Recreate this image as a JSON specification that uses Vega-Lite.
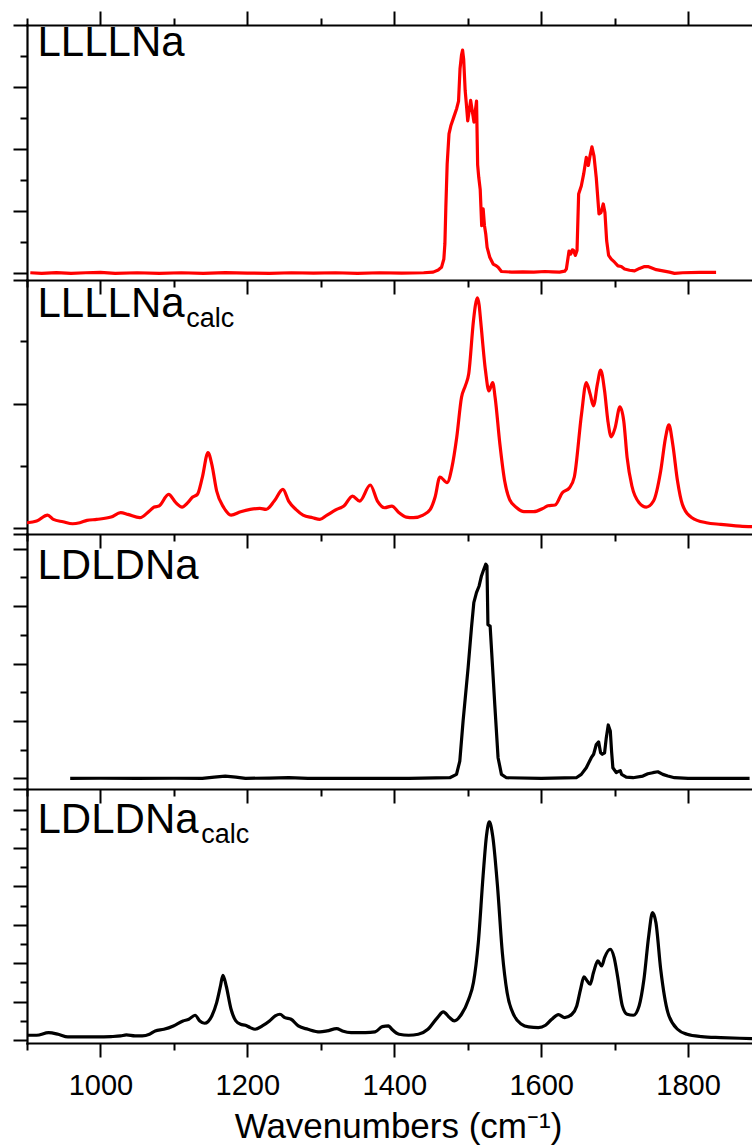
{
  "$schema": "https://vega.github.io/schema/vega-lite/v6.json",
  "background": "white",
  "padding": {"left": 12, "top": 10, "right": 0, "bottom": 2},
  "spacing": 0,
  "bounds": "flush",
  "datasets": {
    "labels": [
      {"panel": 1, "kind": "main", "text": "LLLLNa", "x": 914.3, "y": 3.5},
      {"panel": 2, "kind": "main", "text": "LLLLNa", "x": 914.3, "y": 3.39},
      {"panel": 2, "kind": "sub", "text": "calc", "x": 1116.7, "y": 3.22},
      {"panel": 3, "kind": "main", "text": "LDLDNa", "x": 914.3, "y": 6.94},
      {"panel": 4, "kind": "main", "text": "LDLDNa", "x": 914.3, "y": 10.8},
      {"panel": 4, "kind": "sub", "text": "calc", "x": 1137.1, "y": 10.24}
    ],
    "p1": [
      {"x": 904.5, "y": 0.01}, {"x": 920, "y": 0.0}, {"x": 940, "y": 0.012}, {"x": 960, "y": 0.0}, {"x": 980, "y": 0.01}, {"x": 1000, "y": 0.016}, {"x": 1020, "y": 0.0}, {"x": 1050, "y": 0.01}, {"x": 1080, "y": 0.0}, {"x": 1110, "y": 0.01}, {"x": 1140, "y": 0.0}, {"x": 1170, "y": 0.012}, {"x": 1200, "y": 0.005}, {"x": 1230, "y": 0.0}, {"x": 1260, "y": 0.01}, {"x": 1290, "y": 0.004}, {"x": 1320, "y": 0.01}, {"x": 1350, "y": 0.0}, {"x": 1380, "y": 0.01}, {"x": 1410, "y": 0.004}, {"x": 1440, "y": 0.01}, {"x": 1453, "y": 0.02},
      {"x": 1459.8, "y": 0.054}, {"x": 1464.3, "y": 0.097}, {"x": 1467.5, "y": 0.232}, {"x": 1468.9, "y": 0.474}, {"x": 1470.2, "y": 1.065}, {"x": 1472, "y": 1.76}, {"x": 1474.5, "y": 2.25}, {"x": 1477, "y": 2.38}, {"x": 1481, "y": 2.52}, {"x": 1485, "y": 2.66}, {"x": 1487.5, "y": 2.78}, {"x": 1489.5, "y": 3.3}, {"x": 1491.5, "y": 3.52}, {"x": 1493, "y": 3.6}, {"x": 1494.5, "y": 3.45}, {"x": 1496.5, "y": 2.95}, {"x": 1498, "y": 2.75}, {"x": 1500, "y": 2.46}, {"x": 1504, "y": 2.79}, {"x": 1508.5, "y": 2.44}, {"x": 1512, "y": 2.78}, {"x": 1513.5, "y": 1.75}, {"x": 1515, "y": 1.55}, {"x": 1517, "y": 1.35}, {"x": 1519, "y": 0.77}, {"x": 1521, "y": 1.04}, {"x": 1522.8, "y": 0.77}, {"x": 1524.6, "y": 0.63}, {"x": 1526.4, "y": 0.42}, {"x": 1530, "y": 0.26}, {"x": 1534.6, "y": 0.15}, {"x": 1539.1, "y": 0.12}, {"x": 1541.4, "y": 0.1}, {"x": 1545.9, "y": 0.03},
      {"x": 1560, "y": 0.02}, {"x": 1575, "y": 0.025}, {"x": 1590, "y": 0.02}, {"x": 1605, "y": 0.03}, {"x": 1615, "y": 0.025}, {"x": 1625, "y": 0.02}, {"x": 1632, "y": 0.035}, {"x": 1634.3, "y": 0.07}, {"x": 1637.9, "y": 0.36}, {"x": 1640.1, "y": 0.31}, {"x": 1642.4, "y": 0.38}, {"x": 1644.2, "y": 0.37}, {"x": 1646.5, "y": 0.29}, {"x": 1648.8, "y": 0.37}, {"x": 1651, "y": 1.28}, {"x": 1654.6, "y": 1.41}, {"x": 1657.8, "y": 1.6}, {"x": 1661.4, "y": 1.87}, {"x": 1664.2, "y": 1.74}, {"x": 1666.4, "y": 1.89}, {"x": 1669.1, "y": 2.04}, {"x": 1671.9, "y": 1.89}, {"x": 1675, "y": 1.54}, {"x": 1678.7, "y": 0.96}, {"x": 1681.4, "y": 0.98}, {"x": 1684.5, "y": 1.12}, {"x": 1686.8, "y": 0.98}, {"x": 1689.1, "y": 0.53}, {"x": 1691.8, "y": 0.29}, {"x": 1695.4, "y": 0.23}, {"x": 1699.9, "y": 0.18}, {"x": 1704.5, "y": 0.12}, {"x": 1709, "y": 0.11}, {"x": 1713.5, "y": 0.07}, {"x": 1720.3, "y": 0.05}, {"x": 1727.1, "y": 0.04}, {"x": 1733.9, "y": 0.08}, {"x": 1740.7, "y": 0.11}, {"x": 1745.3, "y": 0.11}, {"x": 1749.8, "y": 0.09}, {"x": 1756.6, "y": 0.06}, {"x": 1765.7, "y": 0.04}, {"x": 1774.7, "y": 0.02}, {"x": 1781.5, "y": 0.0}, {"x": 1792.8, "y": 0.01}, {"x": 1815.5, "y": 0.015}, {"x": 1838.1, "y": 0.015}
    ],
    "p2": [
      {"x": 900, "y": 0.09}, {"x": 913.1, "y": 0.117}, {"x": 928.1, "y": 0.213}, {"x": 935.9, "y": 0.144}, {"x": 949, "y": 0.106}, {"x": 962.1, "y": 0.074}, {"x": 971.9, "y": 0.09}, {"x": 981.7, "y": 0.128}, {"x": 994.8, "y": 0.144}, {"x": 1014.4, "y": 0.181}, {"x": 1027.5, "y": 0.251}, {"x": 1037.3, "y": 0.224}, {"x": 1053.6, "y": 0.171}, {"x": 1066.7, "y": 0.278}, {"x": 1073.2, "y": 0.342}, {"x": 1079.7, "y": 0.358}, {"x": 1092.8, "y": 0.545}, {"x": 1102.6, "y": 0.412}, {"x": 1111.1, "y": 0.342}, {"x": 1118.9, "y": 0.412}, {"x": 1125.5, "y": 0.502}, {"x": 1132, "y": 0.545}, {"x": 1138.6, "y": 0.813}, {"x": 1146.4, "y": 1.214}, {"x": 1151.6, "y": 1.027}, {"x": 1158.2, "y": 0.599}, {"x": 1168, "y": 0.331}, {"x": 1177.8, "y": 0.213}, {"x": 1190.8, "y": 0.267}, {"x": 1203.9, "y": 0.304}, {"x": 1217, "y": 0.321}, {"x": 1225.5, "y": 0.304}, {"x": 1236.6, "y": 0.438}, {"x": 1248.4, "y": 0.626}, {"x": 1256.2, "y": 0.438}, {"x": 1266, "y": 0.304}, {"x": 1275.8, "y": 0.213}, {"x": 1288.9, "y": 0.171}, {"x": 1298.7, "y": 0.144}, {"x": 1308.5, "y": 0.213}, {"x": 1321.6, "y": 0.304}, {"x": 1331.4, "y": 0.358}, {"x": 1343.1, "y": 0.518}, {"x": 1352.9, "y": 0.438}, {"x": 1367.3, "y": 0.695}, {"x": 1377.1, "y": 0.438}, {"x": 1386.9, "y": 0.331}, {"x": 1396.7, "y": 0.358}, {"x": 1406.5, "y": 0.251}, {"x": 1416.3, "y": 0.181}, {"x": 1426.1, "y": 0.171}, {"x": 1439.2, "y": 0.213}, {"x": 1449, "y": 0.304}, {"x": 1455.6, "y": 0.502}, {"x": 1462.1, "y": 0.823}, {"x": 1471.9, "y": 0.733}, {"x": 1478.4, "y": 0.973}, {"x": 1485, "y": 1.455}, {"x": 1491.5, "y": 2.097}, {"x": 1496.7, "y": 2.284}, {"x": 1501.3, "y": 2.472}, {"x": 1507.8, "y": 3.327}, {"x": 1510.5, "y": 3.58}, {"x": 1513.1, "y": 3.692}, {"x": 1515.5, "y": 3.58}, {"x": 1517.6, "y": 3.327}, {"x": 1524.2, "y": 2.525}, {"x": 1528.8, "y": 2.204}, {"x": 1534, "y": 2.337}, {"x": 1537.3, "y": 2.097}, {"x": 1543.8, "y": 1.348}, {"x": 1550.3, "y": 0.759}, {"x": 1556.9, "y": 0.466}, {"x": 1566.7, "y": 0.331}, {"x": 1576.5, "y": 0.267}, {"x": 1589.5, "y": 0.267}, {"x": 1602.6, "y": 0.321}, {"x": 1609.2, "y": 0.363}, {"x": 1619, "y": 0.374}, {"x": 1628.8, "y": 0.572}, {"x": 1638.6, "y": 0.652}, {"x": 1645.1, "y": 0.823}, {"x": 1654.9, "y": 1.83}, {"x": 1661.4, "y": 2.337}, {"x": 1666.7, "y": 2.151}, {"x": 1671.2, "y": 1.963}, {"x": 1676.5, "y": 2.311}, {"x": 1681, "y": 2.536}, {"x": 1686.3, "y": 2.204}, {"x": 1690.8, "y": 1.722}, {"x": 1695.4, "y": 1.466}, {"x": 1700.7, "y": 1.615}, {"x": 1707.2, "y": 1.947}, {"x": 1712.4, "y": 1.722}, {"x": 1717, "y": 1.134}, {"x": 1723.5, "y": 0.679}, {"x": 1733.3, "y": 0.412}, {"x": 1743.1, "y": 0.342}, {"x": 1752.9, "y": 0.438}, {"x": 1762.7, "y": 0.92}, {"x": 1769.3, "y": 1.455}, {"x": 1773.9, "y": 1.658}, {"x": 1779.1, "y": 1.348}, {"x": 1785.6, "y": 0.759}, {"x": 1792.2, "y": 0.385}, {"x": 1805.2, "y": 0.171}, {"x": 1824.8, "y": 0.09}, {"x": 1844.4, "y": 0.064}, {"x": 1870.6, "y": 0.037}, {"x": 1888.9, "y": 0.026}
    ],
    "p3": [
      {"x": 958.8, "y": 0.0}, {"x": 1000, "y": 0.005}, {"x": 1050, "y": 0.0}, {"x": 1100, "y": 0.005}, {"x": 1138.6, "y": 0.0}, {"x": 1154.9, "y": 0.046}, {"x": 1169.9, "y": 0.081}, {"x": 1184.3, "y": 0.046}, {"x": 1197.4, "y": 0.0}, {"x": 1230, "y": 0.012}, {"x": 1256.2, "y": 0.023}, {"x": 1282.4, "y": 0.0}, {"x": 1350, "y": 0.0}, {"x": 1420, "y": 0.0}, {"x": 1475.6, "y": 0.023}, {"x": 1484.7, "y": 0.139}, {"x": 1489.2, "y": 0.6}, {"x": 1493.7, "y": 2.0}, {"x": 1500.5, "y": 3.85}, {"x": 1505.1, "y": 5.25}, {"x": 1508.3, "y": 6.12}, {"x": 1511.9, "y": 6.47}, {"x": 1515.5, "y": 6.7}, {"x": 1518.7, "y": 7.05}, {"x": 1521.9, "y": 7.28}, {"x": 1524.6, "y": 7.46}, {"x": 1526.2, "y": 7.4}, {"x": 1527.5, "y": 5.35}, {"x": 1530.5, "y": 5.3}, {"x": 1536.8, "y": 2.58}, {"x": 1541.3, "y": 0.72}, {"x": 1545.9, "y": 0.139}, {"x": 1552.7, "y": 0.023}, {"x": 1600, "y": 0.0}, {"x": 1647.8, "y": 0.023}, {"x": 1654.6, "y": 0.139}, {"x": 1661.4, "y": 0.37}, {"x": 1668.2, "y": 0.72}, {"x": 1671.4, "y": 0.84}, {"x": 1675, "y": 1.18}, {"x": 1678.2, "y": 1.27}, {"x": 1680.9, "y": 0.89}, {"x": 1683.2, "y": 0.84}, {"x": 1686.3, "y": 0.89}, {"x": 1688.6, "y": 1.41}, {"x": 1691.3, "y": 1.86}, {"x": 1694.1, "y": 1.65}, {"x": 1695.8, "y": 0.95}, {"x": 1697.6, "y": 0.37}, {"x": 1702.2, "y": 0.198}, {"x": 1705.8, "y": 0.25}, {"x": 1707.7, "y": 0.27}, {"x": 1709.4, "y": 0.14}, {"x": 1715.8, "y": 0.046}, {"x": 1724.9, "y": 0.023}, {"x": 1738.4, "y": 0.081}, {"x": 1745.2, "y": 0.16}, {"x": 1752, "y": 0.198}, {"x": 1758.8, "y": 0.23}, {"x": 1765.6, "y": 0.139}, {"x": 1772.4, "y": 0.081}, {"x": 1781.5, "y": 0.023}, {"x": 1800, "y": 0.0}, {"x": 1883.7, "y": 0.0}
    ],
    "p4": [
      {"x": 900, "y": 0.243}, {"x": 913.1, "y": 0.243}, {"x": 929.4, "y": 0.382}, {"x": 942.5, "y": 0.295}, {"x": 955.6, "y": 0.156}, {"x": 975.2, "y": 0.156}, {"x": 994.8, "y": 0.156}, {"x": 1014.4, "y": 0.174}, {"x": 1027.5, "y": 0.208}, {"x": 1035.3, "y": 0.26}, {"x": 1047.1, "y": 0.208}, {"x": 1056.9, "y": 0.208}, {"x": 1066.7, "y": 0.295}, {"x": 1074.5, "y": 0.469}, {"x": 1086.3, "y": 0.556}, {"x": 1099.3, "y": 0.729}, {"x": 1112.4, "y": 0.99}, {"x": 1120.3, "y": 1.076}, {"x": 1128.8, "y": 1.285}, {"x": 1135.3, "y": 0.99}, {"x": 1141.8, "y": 0.868}, {"x": 1151.6, "y": 1.25}, {"x": 1158.2, "y": 1.944}, {"x": 1163.4, "y": 2.81}, {"x": 1166.7, "y": 3.368}, {"x": 1171.2, "y": 2.81}, {"x": 1177.8, "y": 1.597}, {"x": 1184.3, "y": 0.99}, {"x": 1190.8, "y": 0.816}, {"x": 1197.4, "y": 0.764}, {"x": 1203.9, "y": 0.642}, {"x": 1210.5, "y": 0.556}, {"x": 1220.3, "y": 0.729}, {"x": 1230.1, "y": 0.99}, {"x": 1237.9, "y": 1.25}, {"x": 1244.4, "y": 1.337}, {"x": 1251, "y": 1.163}, {"x": 1259.5, "y": 1.076}, {"x": 1269.3, "y": 0.729}, {"x": 1282.4, "y": 0.556}, {"x": 1298.7, "y": 0.417}, {"x": 1308.5, "y": 0.469}, {"x": 1321.6, "y": 0.59}, {"x": 1329.4, "y": 0.469}, {"x": 1341.2, "y": 0.382}, {"x": 1360.8, "y": 0.382}, {"x": 1373.9, "y": 0.417}, {"x": 1383.7, "y": 0.694}, {"x": 1392.2, "y": 0.729}, {"x": 1396.7, "y": 0.556}, {"x": 1406.5, "y": 0.295}, {"x": 1419.6, "y": 0.243}, {"x": 1432.7, "y": 0.295}, {"x": 1445.8, "y": 0.556}, {"x": 1458.8, "y": 1.163}, {"x": 1466.7, "y": 1.458}, {"x": 1475.2, "y": 1.163}, {"x": 1481.7, "y": 0.99}, {"x": 1491.5, "y": 1.337}, {"x": 1501.3, "y": 2.118}, {"x": 1507.8, "y": 2.986}, {"x": 1514.4, "y": 5.069}, {"x": 1520.9, "y": 8.54}, {"x": 1525.5, "y": 10.625}, {"x": 1529.4, "y": 11.354}, {"x": 1534, "y": 10.625}, {"x": 1540.5, "y": 8.02}, {"x": 1547.1, "y": 4.549}, {"x": 1553.6, "y": 2.465}, {"x": 1563.4, "y": 1.25}, {"x": 1573.2, "y": 0.816}, {"x": 1583, "y": 0.677}, {"x": 1596.1, "y": 0.642}, {"x": 1605.9, "y": 0.764}, {"x": 1614.4, "y": 1.076}, {"x": 1623.5, "y": 1.319}, {"x": 1632, "y": 1.163}, {"x": 1641.8, "y": 1.337}, {"x": 1648.4, "y": 1.771}, {"x": 1653.6, "y": 2.639}, {"x": 1658.2, "y": 3.281}, {"x": 1662.7, "y": 3.073}, {"x": 1666.7, "y": 2.899}, {"x": 1671.2, "y": 3.507}, {"x": 1677.1, "y": 4.115}, {"x": 1682.4, "y": 3.854}, {"x": 1686.3, "y": 4.288}, {"x": 1694.1, "y": 4.722}, {"x": 1699.3, "y": 4.288}, {"x": 1703.9, "y": 3.333}, {"x": 1710.5, "y": 1.771}, {"x": 1717, "y": 1.337}, {"x": 1725.5, "y": 1.285}, {"x": 1733.3, "y": 1.771}, {"x": 1739.9, "y": 3.16}, {"x": 1746.4, "y": 5.417}, {"x": 1751.6, "y": 6.632}, {"x": 1756.2, "y": 6.111}, {"x": 1762.7, "y": 3.681}, {"x": 1772.5, "y": 1.424}, {"x": 1785.6, "y": 0.556}, {"x": 1798.7, "y": 0.295}, {"x": 1818.3, "y": 0.174}, {"x": 1844.4, "y": 0.122}, {"x": 1870.6, "y": 0.087}, {"x": 1888.9, "y": 0.069}
    ]
  },
  "resolve": {"scale": {"x": "independent", "y": "independent"}},
  "vconcat": [
    {
      "width": 725, "height": 255,
      "resolve": {"axis": {"x": "independent", "y": "independent"}},
      "layer": [
        {
          "data": {"name": "p1"},
          "mark": {"type": "line", "color": "#ff0000", "strokeWidth": 3.2, "strokeJoin": "round", "clip": true},
          "encoding": {
            "x": {"field": "x", "type": "quantitative", "scale": {"domain": [900, 1887], "nice": false, "zero": false},
                  "axis": {"orient": "bottom", "values": [1000, 1200, 1400, 1600, 1800], "tickSize": 14, "labels": false, "title": null, "domain": true}},
            "y": {"field": "y", "type": "quantitative", "scale": {"domain": [-0.107, 4.006], "nice": false, "zero": false},
                  "axis": {"orient": "left", "values": [0, 1, 2, 3, 4], "tickSize": 14, "labels": false, "title": null, "domain": true}}
          }
        },
        {
          "data": {"name": "labels"},
          "transform": [{"filter": "datum.panel == 1 && datum.kind == 'main'"}],
          "mark": {"type": "text", "align": "left", "baseline": "alphabetic", "fontSize": 42, "font": "Liberation Sans", "color": "#000000"},
          "encoding": {
            "x": {"field": "x", "type": "quantitative", "axis": {"orient": "bottom", "values": [900, 1100, 1300, 1500, 1700], "tickSize": 7, "labels": false, "title": null, "domain": false}},
            "y": {"field": "y", "type": "quantitative", "axis": {"orient": "left", "values": [0.5, 1.5, 2.5, 3.5], "tickSize": 7, "labels": false, "title": null, "domain": false}},
            "text": {"field": "text"}
          }
        },
        {
          "data": {"name": "labels"},
          "transform": [{"filter": "datum.panel == 1 && datum.kind == 'main'"}],
          "mark": {"type": "point", "opacity": 0},
          "encoding": {
            "x": {"field": "x", "type": "quantitative", "axis": {"orient": "top", "values": [1000, 1200, 1400, 1600, 1800], "tickSize": 14, "labels": false, "title": null, "domain": true}},
            "y": {"field": "y", "type": "quantitative", "axis": null}
          }
        },
        {
          "data": {"name": "labels"},
          "transform": [{"filter": "datum.panel == 1 && datum.kind == 'main'"}],
          "mark": {"type": "point", "opacity": 0},
          "encoding": {
            "x": {"field": "x", "type": "quantitative", "axis": {"orient": "top", "values": [900, 1100, 1300, 1500, 1700], "tickSize": 7, "labels": false, "title": null, "domain": false}},
            "y": {"field": "y", "type": "quantitative", "axis": null}
          }
        }
      ]
    },
    {
      "width": 725, "height": 254,
      "resolve": {"axis": {"x": "independent", "y": "independent"}},
      "layer": [
        {
          "data": {"name": "p2"},
          "mark": {"type": "line", "color": "#ff0000", "strokeWidth": 3.2, "interpolate": "monotone", "clip": true},
          "encoding": {
            "x": {"field": "x", "type": "quantitative", "scale": {"domain": [900, 1887], "nice": false, "zero": false},
                  "axis": {"orient": "bottom", "values": [1000, 1200, 1400, 1600, 1800], "tickSize": 14, "labels": false, "title": null, "domain": true}},
            "y": {"field": "y", "type": "quantitative", "scale": {"domain": [-0.09, 3.98], "nice": false, "zero": false},
                  "axis": {"orient": "left", "values": [0, 2, 3.98], "tickSize": 14, "labels": false, "title": null, "domain": true}}
          }
        },
        {
          "data": {"name": "labels"},
          "transform": [{"filter": "datum.panel == 2 && datum.kind == 'main'"}],
          "mark": {"type": "text", "align": "left", "baseline": "alphabetic", "fontSize": 42, "font": "Liberation Sans", "color": "#000000"},
          "encoding": {
            "x": {"field": "x", "type": "quantitative", "axis": {"orient": "bottom", "values": [900, 1100, 1300, 1500, 1700], "tickSize": 7, "labels": false, "title": null, "domain": false}},
            "y": {"field": "y", "type": "quantitative", "axis": {"orient": "left", "values": [1, 3], "tickSize": 7, "labels": false, "title": null, "domain": false}},
            "text": {"field": "text"}
          }
        },
        {
          "data": {"name": "labels"},
          "transform": [{"filter": "datum.panel == 2 && datum.kind == 'sub'"}],
          "mark": {"type": "text", "align": "left", "baseline": "alphabetic", "fontSize": 27, "font": "Liberation Sans", "color": "#000000"},
          "encoding": {
            "x": {"field": "x", "type": "quantitative", "axis": null},
            "y": {"field": "y", "type": "quantitative", "axis": null},
            "text": {"field": "text"}
          }
        }
      ]
    },
    {
      "width": 725, "height": 255,
      "resolve": {"axis": {"x": "independent", "y": "independent"}},
      "layer": [
        {
          "data": {"name": "p3"},
          "mark": {"type": "line", "color": "#000000", "strokeWidth": 3.2, "strokeJoin": "round", "clip": true},
          "encoding": {
            "x": {"field": "x", "type": "quantitative", "scale": {"domain": [900, 1887], "nice": false, "zero": false},
                  "axis": {"orient": "bottom", "values": [1000, 1200, 1400, 1600, 1800], "tickSize": 14, "labels": false, "title": null, "domain": true}},
            "y": {"field": "y", "type": "quantitative", "scale": {"domain": [-0.37, 8.51], "nice": false, "zero": false},
                  "axis": {"orient": "left", "values": [0, 2, 4, 6, 8, 8.51], "tickSize": 14, "labels": false, "title": null, "domain": true}}
          }
        },
        {
          "data": {"name": "labels"},
          "transform": [{"filter": "datum.panel == 3 && datum.kind == 'main'"}],
          "mark": {"type": "text", "align": "left", "baseline": "alphabetic", "fontSize": 42, "font": "Liberation Sans", "color": "#000000"},
          "encoding": {
            "x": {"field": "x", "type": "quantitative", "axis": {"orient": "bottom", "values": [900, 1100, 1300, 1500, 1700], "tickSize": 7, "labels": false, "title": null, "domain": false}},
            "y": {"field": "y", "type": "quantitative", "axis": {"orient": "left", "values": [1, 3, 5, 7], "tickSize": 7, "labels": false, "title": null, "domain": false}},
            "text": {"field": "text"}
          }
        }
      ]
    },
    {
      "width": 725, "height": 254,
      "resolve": {"axis": {"x": "independent", "y": "independent"}},
      "layer": [
        {
          "data": {"name": "p4"},
          "mark": {"type": "line", "color": "#000000", "strokeWidth": 3.2, "interpolate": "monotone", "clip": true},
          "encoding": {
            "x": {"field": "x", "type": "quantitative", "scale": {"domain": [900, 1887], "nice": false, "zero": false},
                  "axis": {"orient": "bottom", "values": [1000, 1200, 1400, 1600, 1800], "tickSize": 14, "labels": true, "format": "d", "labelFontSize": 29, "labelBaseline": "alphabetic", "labelPadding": 37, "labelFlush": false, "title": "Wavenumbers (cm⁻¹)", "titleFontSize": 35, "titleBaseline": "alphabetic", "titleX": 371, "titleY": 94, "domain": true}},
            "y": {"field": "y", "type": "quantitative", "scale": {"domain": [-0.16, 13.07], "nice": false, "zero": false},
                  "axis": {"orient": "left", "values": [0, 2, 4, 6, 8, 10, 12, 13.07], "tickSize": 14, "labels": false, "title": null, "domain": true}}
          }
        },
        {
          "data": {"name": "labels"},
          "transform": [{"filter": "datum.panel == 4 && datum.kind == 'main'"}],
          "mark": {"type": "text", "align": "left", "baseline": "alphabetic", "fontSize": 42, "font": "Liberation Sans", "color": "#000000"},
          "encoding": {
            "x": {"field": "x", "type": "quantitative", "axis": {"orient": "bottom", "values": [900, 1100, 1300, 1500, 1700], "tickSize": 7, "labels": false, "title": null, "domain": false}},
            "y": {"field": "y", "type": "quantitative", "axis": {"orient": "left", "values": [1, 3, 5, 7, 9, 11], "tickSize": 7, "labels": false, "title": null, "domain": false}},
            "text": {"field": "text"}
          }
        },
        {
          "data": {"name": "labels"},
          "transform": [{"filter": "datum.panel == 4 && datum.kind == 'sub'"}],
          "mark": {"type": "text", "align": "left", "baseline": "alphabetic", "fontSize": 27, "font": "Liberation Sans", "color": "#000000"},
          "encoding": {
            "x": {"field": "x", "type": "quantitative", "axis": null},
            "y": {"field": "y", "type": "quantitative", "axis": null},
            "text": {"field": "text"}
          }
        }
      ]
    }
  ],
  "config": {
    "view": {"stroke": null},
    "axis": {
      "domainColor": "#000000", "domainWidth": 2.2, "domainCap": "square",
      "tickColor": "#000000", "tickWidth": 2, "grid": false,
      "labelColor": "#000000", "labelFont": "Liberation Sans",
      "titleColor": "#000000", "titleFont": "Liberation Sans", "titleFontWeight": "normal"
    }
  }
}
